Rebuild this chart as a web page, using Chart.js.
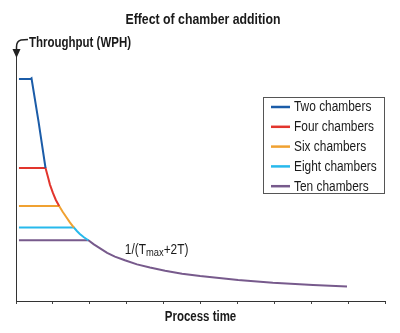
<!DOCTYPE html>
<html>
<head>
<meta charset="utf-8">
<script src="https://cdn.jsdelivr.net/npm/chart.js@4/dist/chart.umd.min.js"></script>
<style>
  html, body { margin: 0; padding: 0; background: #fff; }
  #wrap { width: 400px; height: 333px; }
</style>
</head>
<body>
<div id="wrap"><canvas id="chamberChart" width="400" height="333"></canvas></div>
<script>
const FONT = '"Liberation Sans", Arial, sans-serif';
const NARROW = 0.82;   // squeeze factor for the condensed caption look

// each curve: flat throughput plateau, then the shared decay down to the next curve
const seriesLabels = ['Two chambers', 'Four chambers', 'Six chambers', 'Eight chambers', 'Ten chambers'];
const seriesColors = ['#1b5ca8', '#e2352d', '#f0a131', '#27b9ec', '#775a8c'];

const twoTime = [0.08, 0.39, 0.42, 0.61, 0.80];
const twoTput = [91.0, 91.0, 91.3, 73.6, 54.5];

const fourTime = [0.08, 0.80, 0.87, 0.92, 1.00, 1.08, 1.17];
const fourTput = [54.5, 54.5, 50.6, 47.7, 44.3, 41.4, 38.9];

const sixTime = [0.08, 1.17, 1.26, 1.37, 1.46, 1.57];
const sixTput = [38.9, 38.9, 36.7, 34.2, 32.2, 30.1];

const eightTime = [0.08, 1.57, 1.65, 1.73, 1.84, 1.96];
const eightTput = [30.1, 30.1, 28.7, 27.5, 26.1, 24.9];

const tenTime = [0.08, 1.96, 2.11, 2.28, 2.47, 2.68, 2.95, 3.28, 3.63, 4.04, 4.50, 4.99, 6.02, 6.96, 8.05, 8.97];
const tenTput = [24.9, 24.9, 23.2, 21.6, 19.7, 18.2, 16.7, 15.0, 13.7, 12.4, 11.2, 10.2, 8.6, 7.5, 6.6, 5.9];

const timeSeries = [twoTime, fourTime, sixTime, eightTime, tenTime];
const tputSeries = [twoTput, fourTput, sixTput, eightTput, tenTput];

const datasets = seriesLabels.map((label, i) => ({
    label: label,
    data: timeSeries[i].map((t, j) => ({ x: t, y: tputSeries[i][j] })),
    borderColor: seriesColors[i],
    backgroundColor: seriesColors[i],
    borderWidth: 2,
    pointRadius: 0,
    tension: 0,
    fill: false
}));

function narrowText(ctx, text, x, y, font, align, squeeze) {
    ctx.save();
    ctx.font = font;
    ctx.textAlign = align;
    ctx.translate(x, y);
    ctx.scale(squeeze, 1);
    ctx.fillText(text, 0, 0);
    const w = ctx.measureText(text).width * squeeze;
    ctx.restore();
    return w;
}

// title, axis captions, formula label and boxed legend
const decorations = {
    id: 'decorations',
    afterDraw(chart) {
        const ctx = chart.ctx;
        const area = chart.chartArea;
        const xs = chart.scales.x;
        const ys = chart.scales.y;
        ctx.save();
        ctx.fillStyle = '#1a1a1a';
        ctx.textBaseline = 'middle';

        narrowText(ctx, 'Effect of chamber addition', 203, 20, 'bold 15px ' + FONT, 'center', NARROW);
        narrowText(ctx, 'Process time', (area.left + area.right) / 2, 317, 'bold 14px ' + FONT, 'center', NARROW);
        narrowText(ctx, 'Throughput (WPH)', 29, 43, 'bold 14px ' + FONT, 'left', NARROW);

        // hooked arrow into the top of the y axis
        const ax = Math.round(area.left) + 0.5;
        ctx.strokeStyle = '#222';
        ctx.fillStyle = '#222';
        ctx.lineWidth = 1.5;
        ctx.beginPath();
        ctx.moveTo(28, 39.5);
        ctx.lineTo(21, 40);
        ctx.quadraticCurveTo(ax, 41, ax, 47);
        ctx.lineTo(ax, 50);
        ctx.stroke();
        ctx.beginPath();
        ctx.moveTo(ax - 4, 49);
        ctx.lineTo(ax + 4, 49);
        ctx.lineTo(ax, area.top + 1);
        ctx.closePath();
        ctx.fill();

        // 1/(Tmax+2T) next to the common curve
        ctx.fillStyle = '#1a1a1a';
        ctx.textBaseline = 'alphabetic';
        let lx = xs.getPixelForValue(2.95);
        const ly = ys.getPixelForValue(19.3);
        lx += narrowText(ctx, '1/(T', lx, ly, '14px ' + FONT, 'left', 0.85);
        lx += narrowText(ctx, 'max', lx, ly + 2, '11px ' + FONT, 'left', 0.85);
        narrowText(ctx, '+2T)', lx, ly, '14px ' + FONT, 'left', 0.85);

        // legend box
        const bx = 263.5, by = 97.5, bw = 121, bh = 96;
        ctx.fillStyle = '#fff';
        ctx.fillRect(bx, by, bw, bh);
        ctx.strokeStyle = '#555';
        ctx.lineWidth = 1;
        ctx.strokeRect(bx, by, bw, bh);
        ctx.textBaseline = 'middle';
        chart.data.datasets.forEach((ds, i) => {
            const rowY = 107 + i * 19.8;
            ctx.strokeStyle = ds.borderColor;
            ctx.lineWidth = 2.5;
            ctx.beginPath();
            ctx.moveTo(271, rowY);
            ctx.lineTo(290, rowY);
            ctx.stroke();
            ctx.fillStyle = '#1a1a1a';
            narrowText(ctx, ds.label, 294, rowY + 0.5, '14px ' + FONT, 'left', 0.85);
        });
        ctx.restore();
    }
};

new Chart(document.getElementById('chamberChart'), {
    type: 'line',
    data: { datasets: datasets },
    plugins: [decorations],
    options: {
        responsive: false,
        animation: false,
        layout: { padding: { left: 16, right: 15, top: 57, bottom: 29 } },
        plugins: {
            legend: { display: false },
            tooltip: { enabled: false },
            title: { display: false }
        },
        scales: {
            x: {
                type: 'linear',
                min: 0,
                max: 10,
                ticks: { display: false, stepSize: 1 },
                grid: { drawOnChartArea: false, drawTicks: true, tickLength: 3, color: '#444' },
                border: { display: true, color: '#333', width: 1 }
            },
            y: {
                min: 0,
                max: 100,
                ticks: { display: false },
                grid: { display: false, drawTicks: false },
                border: { display: true, color: '#333', width: 1 }
            }
        }
    }
});
</script>
</body>
</html>
